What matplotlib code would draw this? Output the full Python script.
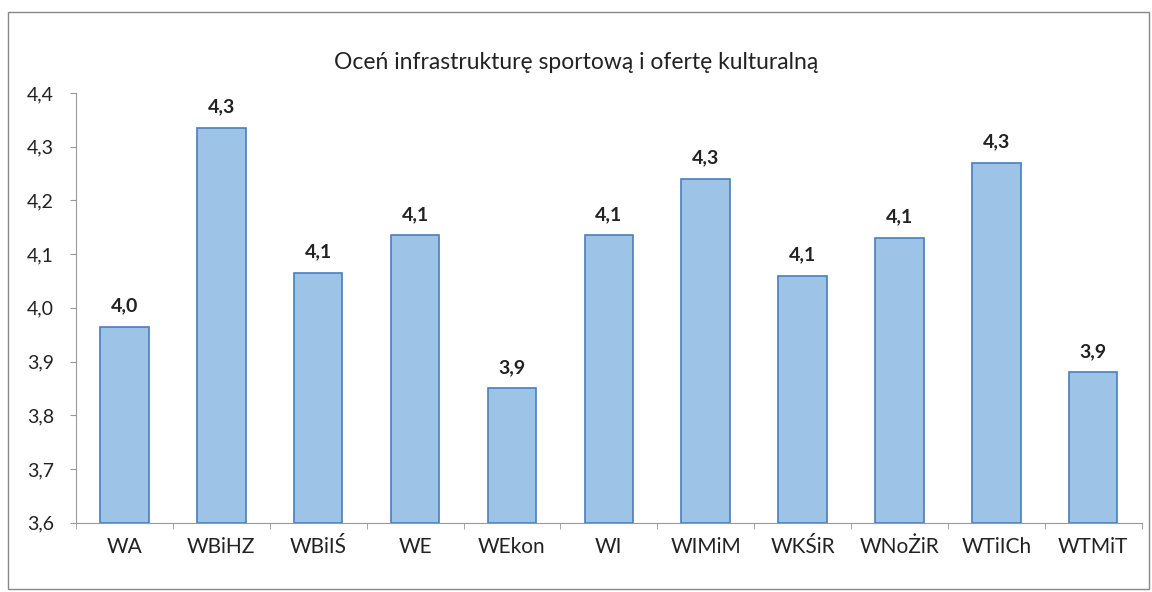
import matplotlib
matplotlib.use("Agg")
import matplotlib.pyplot as plt
from matplotlib.patches import Rectangle
import numpy as np

plt.rcParams["font.family"] = ["Lato", "DejaVu Sans"]

# Data
categories = ["WA", "WBiHZ", "WBiIŚ", "WE", "WEkon", "WI", "WIMiM", "WKŚiR", "WNoŻiR", "WTiICh", "WTMiT"]
values = [3.965, 4.335, 4.065, 4.135, 3.85, 4.135, 4.24, 4.06, 4.13, 4.27, 3.88]
value_labels = ["4,0", "4,3", "4,1", "4,1", "3,9", "4,1", "4,3", "4,1", "4,1", "4,3", "3,9"]
y_ticks = [3.6, 3.7, 3.8, 3.9, 4.0, 4.1, 4.2, 4.3, 4.4]

fig = plt.figure(figsize=(11.52, 5.92), dpi=100)
ax = fig.add_axes([0.066, 0.117, 0.925, 0.726])

x = np.arange(len(categories))
ax.bar(x, [v - 3.6 for v in values], bottom=3.6, width=0.5,
       color="#9DC3E6", edgecolor="#4A7EBB", linewidth=1.2)

for xi, v, lab in zip(x, values, value_labels):
    ax.annotate(lab, (xi, v), xytext=(0, 9), textcoords="offset points",
                ha="center", va="bottom", fontsize=14, fontweight="bold", color="#222222")

ax.set_ylim(3.6, 4.4)
ax.set_xlim(-0.5, len(categories) - 0.5)
ax.set_yticks(y_ticks)
ax.set_yticklabels([f"{t:.1f}".replace(".", ",") for t in y_ticks], fontsize=14, color="#222222")
ax.set_xticks(x)
ax.set_xticklabels(categories, fontsize=15, color="#222222")
ax.tick_params(axis="x", length=0, pad=10)
ax.set_xticks(np.arange(-0.5, len(categories)), minor=True)
ax.tick_params(axis="x", which="minor", length=4, color="#999999", direction="out")
ax.tick_params(axis="y", length=4, color="#999999", direction="out", pad=12)

for side in ["top", "right"]:
    ax.spines[side].set_visible(False)
for side in ["left", "bottom"]:
    ax.spines[side].set_color("#999999")

fig.text(0.5, 0.895, "Oceń infrastrukturę sportową i ofertę kulturalną",
         ha="center", va="center", fontsize=16.5, color="#222222")

# chart border
fig.patches.append(Rectangle((0.007, 0.005), 0.99, 0.975, transform=fig.transFigure,
                             fill=False, edgecolor="#888888", linewidth=1))

fig.savefig("out.png", dpi=100, facecolor="white")
